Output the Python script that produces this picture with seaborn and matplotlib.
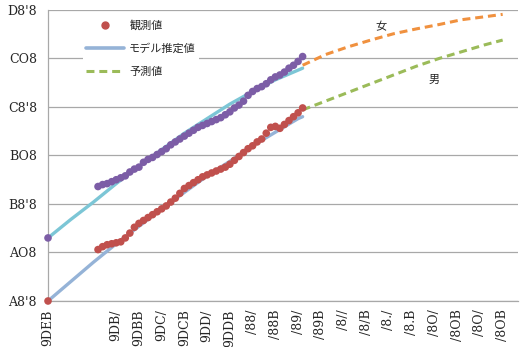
import matplotlib
matplotlib.use("Agg")
import pandas as pd
import matplotlib.pyplot as plt
from matplotlib.lines import Line2D
import seaborn as sns

#===============================================================
#               観測値・モデル推定値・予測値 (女 / 男)
#===============================================================

# Observed values (first point, then a gap, then yearly)
obs_years = [1957] + list(range(1968, 2014))
female_obs = [66.5,
              71.8, 72.0, 72.1, 72.3, 72.5, 72.7, 72.9, 73.3, 73.6, 73.8,
              74.3, 74.6, 74.8, 75.1, 75.4, 75.7, 76.1, 76.4, 76.7, 77.0,
              77.3, 77.6, 77.9, 78.1, 78.3, 78.5, 78.7, 78.9, 79.2, 79.5,
              79.9, 80.2, 80.6, 81.2, 81.6, 81.9, 82.1, 82.4, 82.8, 83.1,
              83.3, 83.6, 84.0, 84.3, 84.7, 85.2]
male_obs = [60.0,
            65.3, 65.6, 65.8, 65.9, 66.0, 66.1, 66.5, 67.0, 67.6, 68.0,
            68.3, 68.6, 68.9, 69.2, 69.5, 69.8, 70.2, 70.6, 71.1, 71.6,
            71.9, 72.2, 72.5, 72.8, 73.0, 73.2, 73.4, 73.6, 73.8, 74.1,
            74.5, 74.9, 75.3, 75.7, 76.0, 76.4, 76.7, 77.3, 77.9, 78.0,
            77.8, 78.2, 78.6, 79.0, 79.4, 79.9]

# Model estimates
model_years = [1957, 1962, 1967, 1972, 1977, 1982, 1987, 1992, 1997, 2002, 2007, 2012, 2013]
female_model = [66.5, 68.4, 70.2, 72.1, 73.9, 75.6, 77.3, 78.8, 80.3, 81.6, 82.8, 83.8, 84.0]
male_model = [60.0, 62.0, 64.0, 65.9, 67.7, 69.5, 71.2, 72.9, 74.4, 76.0, 77.4, 78.8, 79.0]

# Forecasts
fc_years = [2013, 2018, 2023, 2028, 2033, 2038, 2043, 2048, 2053, 2057]
female_fc = [84.3, 85.4, 86.2, 86.9, 87.55, 88.05, 88.5, 89.0, 89.3, 89.55]
male_fc = [79.7, 80.6, 81.5, 82.4, 83.3, 84.2, 85.0, 85.7, 86.4, 86.9]

# Axis ticks and (as displayed) tick labels
x_ticks = list(range(1957, 2058, 5))
x_labels = ["9DEB", "", "", "9DB/", "9DBB", "9DC/", "9DCB", "9DD/", "9DDB",
            "/88/", "/88B", "/89/", "/89B", "/8//", "/8/B", "/8./", "/8.B",
            "/8O/", "/8OB", "/8O/", "/8OB"]
y_ticks = [60, 65, 70, 75, 80, 85, 90]
y_labels = ["A8'8", "AO8", "B8'8", "BO8", "C8'8", "CO8", "D8'8"]

legend_labels = ["観測値", "モデル推定値", "予測値"]

# Colors
PURPLE = "#7C5DA6"
RED = "#C0504D"
TEAL = "#7CC6D6"
BLUE = "#95B3D7"
ORANGE = "#F0913F"
GREEN = "#9BBB59"
GRID = "#A8A8A8"

sns.set_style("white")
plt.rcParams["font.family"] = ["Noto Sans CJK JP", "DejaVu Sans"]


def long_df(years, female, male):
    return pd.DataFrame({
        "year": list(years) * 2,
        "value": list(female) + list(male),
        "sex": ["女"] * len(female) + ["男"] * len(male),
    })


obs_df = long_df(obs_years, female_obs, male_obs)
model_df = long_df(model_years, female_model, male_model)
fc_df = long_df(fc_years, female_fc, male_fc)

fig = plt.figure(figsize=(5.23, 3.47), dpi=100)
ax = fig.add_axes([0.0918, 0.1326, 0.898, 0.8386])

sns.lineplot(data=model_df, x="year", y="value", hue="sex",
             palette={"女": TEAL, "男": BLUE}, linewidth=2.4,
             legend=False, ax=ax, zorder=2)
sns.lineplot(data=fc_df, x="year", y="value", hue="sex",
             palette={"女": ORANGE, "男": GREEN}, linewidth=2.2,
             linestyle=(0, (2.6, 1.6)), legend=False, ax=ax, zorder=2)
sns.scatterplot(data=obs_df, x="year", y="value", hue="sex",
                palette={"女": PURPLE, "男": RED}, s=30, linewidth=0,
                legend=False, ax=ax, zorder=3, clip_on=False)

ax.set_xlim(1957, 2060.3)
ax.set_ylim(60, 90)
ax.set_xticks(x_ticks)
ax.set_xticklabels(x_labels, rotation=90, family="DejaVu Serif", fontsize=9)
ax.set_yticks(y_ticks)
ax.set_yticklabels(y_labels, family="DejaVu Serif", fontsize=9)
ax.set_xlabel("")
ax.set_ylabel("")

ax.yaxis.grid(True, color=GRID, linewidth=0.9)
ax.xaxis.grid(False)
ax.set_axisbelow(True)
for side in ["top", "right"]:
    ax.spines[side].set_visible(False)
for side in ["left", "bottom"]:
    ax.spines[side].set_color(GRID)
    ax.spines[side].set_linewidth(0.9)
ax.tick_params(axis="y", length=4, color=GRID, pad=4)
ax.tick_params(axis="x", length=3, color=GRID, pad=3)

# Series names inside the plot
ax.text(2030.2, 88.25, "女", fontsize=8, ha="center", va="center")
ax.text(2042.0, 82.8, "男", fontsize=8, ha="center", va="center")

handles = [
    Line2D([], [], marker="o", color=RED, linestyle="None", markersize=5),
    Line2D([], [], color=BLUE, linewidth=2.6),
    Line2D([], [], color=GREEN, linewidth=2.2, linestyle=(0, (2.6, 1.6))),
]
fig.legend(handles, legend_labels, loc="upper left",
           bbox_to_anchor=(77 / 523, 1 - 11 / 347), fontsize=8,
           frameon=True, facecolor="white", edgecolor="none", framealpha=1,
           fancybox=False, handlelength=3.4, handletextpad=0.5,
           labelspacing=1.15, borderpad=0.3)

fig.savefig("out.png", dpi=100)
